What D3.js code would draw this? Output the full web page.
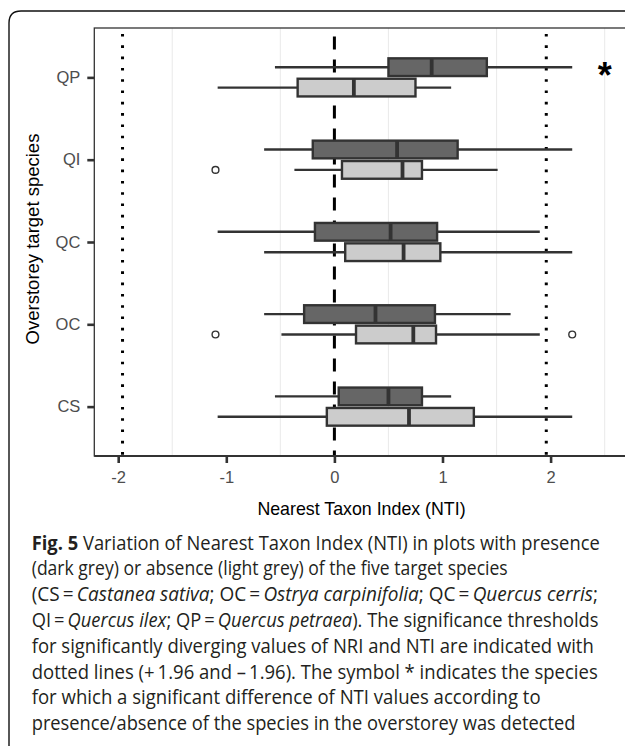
<!DOCTYPE html>
<html>
<head>
<meta charset="utf-8">
<script src="https://cdn.jsdelivr.net/npm/d3@7"></script>
<style>
  body { margin: 0; background: #fff; }
  svg { display: block; }
</style>
</head>
<body>
<div id="chart"></div>
<script>
// data
const species = ["QP", "QI", "QC", "OC", "CS"];
const groups = ["presence", "absence"];
// [lower whisker, q1, median, q3, upper whisker], same order as species
const presenceStats = [
    [-0.55, 0.50, 0.90, 1.41, 2.20],
    [-0.65, -0.20, 0.58, 1.14, 2.20],
    [-1.08, -0.18, 0.52, 0.95, 1.90],
    [-0.65, -0.28, 0.38, 0.93, 1.63],
    [-0.55, 0.04, 0.50, 0.81, 1.08]
];
const absenceStats = [
    [-1.08, -0.34, 0.18, 0.75, 1.08],
    [-0.37, 0.07, 0.63, 0.81, 1.51],
    [-0.65, 0.10, 0.64, 0.98, 2.20],
    [-0.49, 0.20, 0.73, 0.94, 1.90],
    [-1.08, -0.07, 0.69, 1.29, 2.20]
];
const outlierSpecies = ["QI", "OC", "OC"];
const outlierGroup = ["absence", "absence", "absence"];
const outlierValues = [-1.10, -1.10, 2.20];
const thresholds = [-1.96, 1.96];
const xTicks = [-2, -1, 0, 1, 2];
const gridValues = [-1.5, -0.5, 0.5, 1.5, 2.5];
const significant = ["QP"];

const captionLines = [
    [["b", "Fig. 5"], ["n", " Variation of Nearest Taxon Index (NTI) in plots with presence"]],
    [["n", "(dark grey) or absence (light grey) of the five target species"]],
    [["n", "(CS\u2009=\u2009"], ["i", "Castanea sativa"], ["n", "; OC\u2009=\u2009"], ["i", "Ostrya carpinifolia"], ["n", "; QC\u2009=\u2009"], ["i", "Quercus cerris"], ["n", ";"]],
    [["n", "QI\u2009=\u2009"], ["i", "Quercus ilex"], ["n", "; QP\u2009=\u2009"], ["i", "Quercus petraea"], ["n", "). The significance thresholds"]],
    [["n", "for significantly diverging values of NRI and NTI are indicated with"]],
    [["n", "dotted lines (+\u20091.96 and \u2013\u20091.96). The symbol * indicates the species"]],
    [["n", "for which a significant difference of NTI values according to"]],
    [["n", "presence/absence of the species in the overstorey was detected"]]
];
// right edge of each caption line in the figure
const captionEnds = [600, 508, 598, 599, 594, 598, 541, 576];

/*
SVG + LAYOUT
*/
const width = 625;
const height = 746;
const panel = {left: 94.3, top: 28, right: 645, bottom: 456};

const svg = d3.select("#chart")
    .append("svg")
    .attr("width", width)
    .attr("height", height);

// outer frame of the figure box (open to the right/bottom)
svg.append("path")
    .attr("d", `M9,${height + 5} L9,23 Q9,11 21,11 L${width + 5},11`)
    .attr("fill", "none")
    .attr("stroke", "#111")
    .attr("stroke-width", 1.4);

/*
SCALES
*/
const xScale = d3.scaleLinear()
    .domain([-2, 2])
    .range([118.2, 550.6]);

const yScale = d3.scalePoint()
    .domain(species)
    .range([panel.top, panel.bottom])
    .padding(0.6);

const subScale = d3.scaleBand()
    .domain(groups)
    .range([-19.05, 19.05])
    .paddingInner(0.132);

const fillScale = d3.scaleOrdinal()
    .domain(groups)
    .range(["#666666", "#cccccc"]);

/*
PANEL + GRID
*/
svg.append("g")
    .selectAll("line")
    .data(gridValues)
    .enter()
    .append("line")
        .attr("x1", d => xScale(d))
        .attr("x2", d => xScale(d))
        .attr("y1", panel.top)
        .attr("y2", panel.bottom)
        .attr("stroke", "#ebebeb")
        .attr("stroke-width", 1.1);

// reference lines
svg.append("g")
    .selectAll("line")
    .data(thresholds)
    .enter()
    .append("line")
        .attr("x1", d => xScale(d))
        .attr("x2", d => xScale(d))
        .attr("y1", panel.top + 6)
        .attr("y2", panel.bottom)
        .attr("stroke", "#000")
        .attr("stroke-width", 3)
        .attr("stroke-dasharray", "2.6 8.7");

svg.append("line")
    .attr("x1", xScale(0))
    .attr("x2", xScale(0))
    .attr("y1", panel.top + 8.5)
    .attr("y2", panel.bottom)
    .attr("stroke", "#000")
    .attr("stroke-width", 3)
    .attr("stroke-dasharray", "13 10");

/*
BOXPLOTS
*/
const boxes = [];
species.forEach(function(sp, i) {
    boxes.push({sp: sp, g: "presence", s: presenceStats[i]});
    boxes.push({sp: sp, g: "absence", s: absenceStats[i]});
});

const boxG = svg.append("g")
    .selectAll("g")
    .data(boxes)
    .enter()
    .append("g")
        .attr("transform", d => `translate(0,${yScale(d.sp) + subScale(d.g)})`);

const bw = subScale.bandwidth();

// whiskers
boxG.append("line")
    .attr("x1", d => xScale(d.s[0]))
    .attr("x2", d => xScale(d.s[1]))
    .attr("y1", bw / 2).attr("y2", bw / 2)
    .attr("stroke", "#333").attr("stroke-width", 2.4);

boxG.append("line")
    .attr("x1", d => xScale(d.s[3]))
    .attr("x2", d => xScale(d.s[4]))
    .attr("y1", bw / 2).attr("y2", bw / 2)
    .attr("stroke", "#333").attr("stroke-width", 2.4);

boxG.append("rect")
    .attr("x", d => xScale(d.s[1]))
    .attr("width", d => xScale(d.s[3]) - xScale(d.s[1]))
    .attr("y", 0)
    .attr("height", bw)
    .attr("fill", d => fillScale(d.g))
    .attr("stroke", "#333")
    .attr("stroke-width", 2.4);

boxG.append("line")
    .attr("x1", d => xScale(d.s[2]))
    .attr("x2", d => xScale(d.s[2]))
    .attr("y1", 0).attr("y2", bw)
    .attr("stroke", "#333").attr("stroke-width", 3.8);

// outliers
svg.append("g")
    .selectAll("circle")
    .data(outlierValues)
    .enter()
    .append("circle")
        .attr("cx", d => xScale(d))
        .attr("cy", (d, i) => yScale(outlierSpecies[i]) + subScale(outlierGroup[i]) + bw / 2)
        .attr("r", 3.4)
        .attr("fill", "none")
        .attr("stroke", "#333")
        .attr("stroke-width", 1.4);

// significance marker
svg.append("g")
    .selectAll("text")
    .data(significant)
    .enter()
    .append("text")
        .attr("x", xScale(2.5))
        .attr("y", d => yScale(d) + 11)
        .attr("text-anchor", "middle")
        .attr("font-family", "Liberation Sans, Arial, sans-serif")
        .attr("font-weight", "bold")
        .attr("font-size", 36)
        .attr("fill", "#000")
        .text("*");

// panel border
svg.append("rect")
    .attr("x", panel.left)
    .attr("y", panel.top)
    .attr("width", panel.right - panel.left)
    .attr("height", panel.bottom - panel.top)
    .attr("fill", "none")
    .attr("stroke", "#333")
    .attr("stroke-width", 1.3);

svg.append("line")
    .attr("x1", panel.left)
    .attr("x2", width + 5)
    .attr("y1", panel.bottom)
    .attr("y2", panel.bottom)
    .attr("stroke", "#333")
    .attr("stroke-width", 2);

/*
AXES
*/
const xAxis = svg.append("g")
    .attr("transform", `translate(0,${panel.bottom})`)
    .call(d3.axisBottom(xScale).tickValues(xTicks).tickSize(7).tickPadding(8)
        .tickFormat(d3.format("d")));

const yAxis = svg.append("g")
    .attr("transform", `translate(${panel.left},0)`)
    .call(d3.axisLeft(yScale).tickSize(7).tickPadding(7));

[xAxis, yAxis].forEach(function(ax) {
    ax.select(".domain").remove();
    ax.selectAll(".tick line").attr("stroke", "#333").attr("stroke-width", 2.6);
    ax.selectAll(".tick text")
        .attr("fill", "#4d4d4d")
        .attr("font-family", "Liberation Sans, Arial, sans-serif")
        .attr("font-size", 16.5);
});
xAxis.selectAll(".tick text").text(d => d < 0 ? "-" + Math.abs(d) : d);

svg.append("text")
    .attr("x", 361.5)
    .attr("y", 515)
    .attr("text-anchor", "middle")
    .attr("font-family", "Liberation Sans, Arial, sans-serif")
    .attr("font-size", 17.8)
    .attr("fill", "#000")
    .text("Nearest Taxon Index (NTI)");

svg.append("text")
    .attr("transform", `translate(38.5,239) rotate(-90)`)
    .attr("text-anchor", "middle")
    .attr("font-family", "Liberation Sans, Arial, sans-serif")
    .attr("font-size", 18.5)
    .attr("fill", "#000")
    .text("Overstorey target species");

/*
CAPTION
*/
const capX = 31.7;
const capY0 = 549.5;
const capStep = 25.8;

captionLines.forEach(function(parts, i) {
    const t = svg.append("text")
        .attr("font-family", "Open Sans, Noto Sans, sans-serif")
        .attr("font-size", 19.5)
        .attr("fill", "#231f20");
    parts.forEach(function(p) {
        t.append("tspan")
            .attr("font-weight", p[0] === "b" ? "bold" : "normal")
            .attr("font-style", p[0] === "i" ? "italic" : "normal")
            .text(p[1]);
    });
    const w = t.node().getComputedTextLength();
    const sx = (captionEnds[i] - capX) / w;
    t.attr("transform", `translate(${capX},${capY0 + i * capStep}) scale(${sx},1)`);
});
</script>
</body>
</html>
